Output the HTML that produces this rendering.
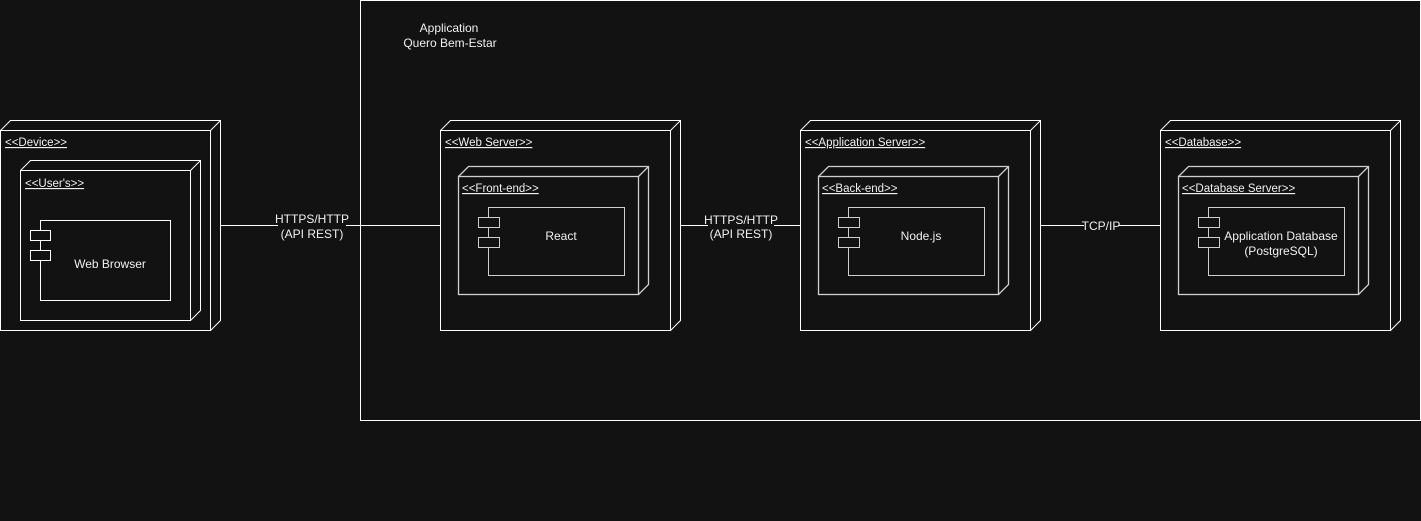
<!DOCTYPE html>
<html><head><meta charset="utf-8">
<style>
html,body{margin:0;padding:0;background:#121212;}
svg{display:block;}
text{font-family:"Liberation Sans",Arial,sans-serif;font-size:12px;fill:#f0f0f0;}
.st{text-decoration:underline;font-size:11.5px;}
</style></head>
<body>
<svg width="1421" height="521" viewBox="0 0 1421 521">
<rect x="0" y="0" width="1421" height="521" fill="#121212"/>
<rect x="360.5" y="0.5" width="1060" height="420" fill="none" stroke="#fff"/>
<text x="449" y="32" text-anchor="middle">Application</text>
<text x="450" y="47" text-anchor="middle">Quero Bem-Estar</text>

<g stroke="#fff" stroke-width="1">
<line x1="220" y1="225.5" x2="278" y2="225.5"/><line x1="346" y1="225.5" x2="440" y2="225.5"/>
<line x1="680" y1="225.5" x2="708" y2="225.5"/><line x1="774" y1="225.5" x2="800" y2="225.5"/>
<line x1="1040" y1="225.5" x2="1084" y2="225.5"/><line x1="1118" y1="225.5" x2="1160" y2="225.5"/>
</g>
<text x="312" y="223" text-anchor="middle">HTTPS/HTTP</text>
<text x="312" y="238" text-anchor="middle">(API REST)</text>
<text x="741" y="224" text-anchor="middle">HTTPS/HTTP</text>
<text x="741" y="238" text-anchor="middle">(API REST)</text>
<text x="1101" y="230" text-anchor="middle">TCP/IP</text>

<g fill="none" stroke="#fff">
<path d="M0.5 130.5 L10.5 120.5 L220.5 120.5 L220.5 320.5 L210.5 330.5 M210.5 130.5 L220.5 120.5"/>
<rect x="0.5" y="130.5" width="210" height="200"/>
</g>
<text class="st" x="5" y="146">&lt;&lt;Device&gt;&gt;</text>
<g fill="none" stroke="#fff">
<path d="M20.5 170.5 L30.5 160.5 L200.5 160.5 L200.5 310.5 L190.5 320.5 M190.5 170.5 L200.5 160.5"/>
<rect x="20.5" y="170.5" width="170" height="150"/>
</g>
<text class="st" x="25" y="187">&lt;&lt;User's&gt;&gt;</text>
<g fill="#121212" stroke="#fff">
<rect x="40.5" y="220.5" width="130" height="80"/>
<rect x="30.5" y="230.5" width="20" height="10"/>
<rect x="30.5" y="250.5" width="20" height="10"/>
</g>
<text x="110" y="268" text-anchor="middle">Web Browser</text>

<g id="nodes"></g>
</svg>
<script>
const nodes=[
 {x:440,name:'web-server',outer:'<<Web Server>>',inner:'<<Front-end>>',comp:['React']},
 {x:800,name:'application-server',outer:'<<Application Server>>',inner:'<<Back-end>>',comp:['Node.js']},
 {x:1160,name:'database',outer:'<<Database>>',inner:'<<Database Server>>',comp:['Application Database','(PostgreSQL)']}
];
const NS='http://www.w3.org/2000/svg';
const g=document.getElementById('nodes');
function mk(tag,attrs){const e=document.createElementNS(NS,tag);for(const k in attrs)e.setAttribute(k,attrs[k]);return e;}
nodes.forEach(n=>{
 const x=n.x+0.5;
 const grp=mk('g',{fill:'none',stroke:'#fff'});
 
 
 grp.appendChild(mk('path',{d:`M${x} 130.5 L${x+10} 120.5 L${x+240} 120.5 L${x+240} 320.5 L${x+230} 330.5 M${x+230} 130.5 L${x+240} 120.5`}));
 grp.appendChild(mk('rect',{x:x,y:130.5,width:230,height:200}));
 const ix=x+18;
 grp.appendChild(mk('path',{d:`M${ix} 176.5 L${ix+10} 166.5 L${ix+190} 166.5 L${ix+190} 284.5 L${ix+180} 294.5 M${ix+180} 176.5 L${ix+190} 166.5`,stroke:'#cfcfcf','stroke-width':'1.3'}));
 grp.appendChild(mk('rect',{x:ix,y:176.5,width:180,height:118,stroke:'#cfcfcf','stroke-width':'1.3'}));
 const cx=x+48;
 grp.appendChild(mk('rect',{x:cx,y:207.5,width:136,height:68,stroke:'#cfcfcf',fill:'#121212'}));
 grp.appendChild(mk('rect',{x:cx-10,y:217.5,width:21,height:10,stroke:'#cfcfcf',fill:'#121212'}));
 grp.appendChild(mk('rect',{x:cx-10,y:237.5,width:21,height:10,stroke:'#cfcfcf',fill:'#121212'}));
 g.appendChild(grp);
 const t1=mk('text',{x:n.x+5,y:146,class:'st'});t1.textContent=n.outer;
 
 
 g.appendChild(t1);
 const t2=mk('text',{x:n.x+22,y:192,class:'st'});t2.textContent=n.inner;
 
 
 g.appendChild(t2);
 n.comp.forEach((c,i)=>{
  const t=mk('text',{x:n.x+121,y:240+i*15,'text-anchor':'middle'});
  t.textContent=c;
  
  
  g.appendChild(t);
 });
});
</script>
</body></html>
